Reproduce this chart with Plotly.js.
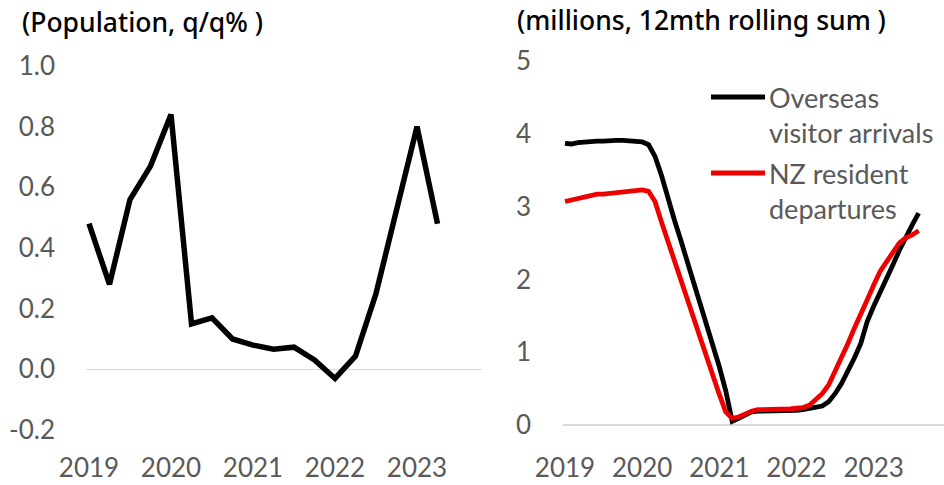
<!DOCTYPE html>
<html>
<head>
<meta charset="utf-8">
<script src="https://cdn.plot.ly/plotly-3.0.1.min.js"></script>
<style>
html,body{margin:0;padding:0;background:#fff;}
#chart{width:944px;height:485px;}
</style>
</head>
<body>
<div id="chart"></div>
<script>
// ---- Left panel: population growth, quarterly ----
const quarters = ["2019Q1","2019Q2","2019Q3","2019Q4","2020Q1","2020Q2","2020Q3","2020Q4",
  "2021Q1","2021Q2","2021Q3","2021Q4","2022Q1","2022Q2","2022Q3","2022Q4","2023Q1","2023Q2"];
const popGrowth = [0.48,0.28,0.56,0.67,0.84,0.15,0.17,0.10,0.08,0.066,0.073,0.031,-0.03,0.044,0.25,0.52,0.80,0.48];
const leftTickVals = ["2019Q1","2020Q1","2021Q1","2022Q1","2023Q1"];
const yearLabels = ["2019","2020","2021","2022","2023"];
const leftTitle = "(Population, q/q% )";

// ---- Right panel: arrivals / departures, monthly, 12mth rolling sum (millions) ----
const months = ["2019-01","2019-02","2019-03","2019-04","2019-05","2019-06","2019-07","2019-08","2019-09","2019-10","2019-11","2019-12",
  "2020-01","2020-02","2020-03","2020-04","2020-05","2020-06","2020-07","2020-08","2020-09","2020-10","2020-11","2020-12",
  "2021-01","2021-02","2021-03","2021-04","2021-05","2021-06","2021-07","2021-08","2021-09","2021-10","2021-11","2021-12",
  "2022-01","2022-02","2022-03","2022-04","2022-05","2022-06","2022-07","2022-08","2022-09","2022-10","2022-11","2022-12",
  "2023-01","2023-02","2023-03","2023-04","2023-05","2023-06","2023-07","2023-08"];
const visitorArrivals = [3.87,3.86,3.88,3.89,3.89,3.90,3.90,3.91,3.91,3.91,3.90,3.90,
  3.89,3.85,3.69,3.43,3.10,2.82,2.54,2.25,1.97,1.69,1.40,1.11,
  0.80,0.47,0.05,0.09,0.14,0.18,0.19,0.19,0.19,0.19,0.19,0.19,
  0.20,0.21,0.23,0.24,0.26,0.32,0.43,0.57,0.73,0.92,1.12,1.42,
  1.63,1.81,1.99,2.20,2.40,2.59,2.75,2.91];
const residentDepartures = [3.07,3.09,3.11,3.13,3.16,3.17,3.17,3.18,3.19,3.20,3.21,3.22,
  3.23,3.21,3.07,2.79,2.52,2.26,2.00,1.73,1.47,1.20,0.94,0.68,
  0.42,0.18,0.09,0.11,0.15,0.19,0.21,0.21,0.21,0.21,0.22,0.22,
  0.23,0.24,0.27,0.34,0.43,0.55,0.73,0.92,1.12,1.33,1.51,1.72,
  1.92,2.11,2.24,2.38,2.50,2.57,2.61,2.67];
const rightTickVals = ["2019-01","2020-01","2021-01","2022-01","2023-01"];
const rightTitle = "(millions, 12mth rolling sum )";
const seriesNames = ["Overseas<br>visitor arrivals","NZ resident<br>departures"];
const seriesColors = ["#000000","#ee0000"];

const tickFont = {family:"Lato, 'Noto Sans', sans-serif", size:26, color:"#595959"};
const legendFont = {family:"Lato, 'Noto Sans', sans-serif", size:27, color:"#595959"};
const titleFont = {family:"'Noto Sans', sans-serif", size:26.5, color:"#000000", weight:500};

const traces = [
  {x:quarters, y:popGrowth, type:"scatter", mode:"lines", xaxis:"x", yaxis:"y",
   line:{color:"#000000", width:5.5}, showlegend:false, hoverinfo:"skip"},
  {x:months, y:visitorArrivals, type:"scatter", mode:"lines", xaxis:"x2", yaxis:"y2",
   line:{color:seriesColors[0], width:4.8}, name:seriesNames[0], showlegend:false, hoverinfo:"skip"},
  {x:months, y:residentDepartures, type:"scatter", mode:"lines", xaxis:"x2", yaxis:"y2",
   line:{color:seriesColors[1], width:4.8}, name:seriesNames[1], showlegend:false, hoverinfo:"skip"}
];

const W = 944, H = 485;
const layout = {
  width:W, height:H,
  margin:{l:0,r:0,t:0,b:0},
  paper_bgcolor:"#ffffff", plot_bgcolor:"#ffffff",
  showlegend:false,
  xaxis:{type:"category", domain:[86/W, 482/W], range:[-0.146, 19.17],
    tickmode:"array", tickvals:leftTickVals, ticktext:yearLabels,
    showgrid:false, zeroline:false, showline:false, ticks:"", tickfont:tickFont,
    ticklabelstandoff:20, anchor:"y"},
  yaxis:{domain:[(H-430)/H, (H-66)/H], range:[-0.2, 1.0],
    tickmode:"array", tickvals:[-0.2,0,0.2,0.4,0.6,0.8,1.0],
    ticktext:["-0.2","0.0","0.2","0.4","0.6","0.8","1.0"],
    showgrid:false, zeroline:true, zerolinecolor:"#d9d9d9", zerolinewidth:1.5,
    showline:false, ticks:"", tickfont:tickFont, ticklabelstandoff:30, anchor:"x"},
  xaxis2:{type:"category", domain:[563/W, 1], range:[-0.31, 58.94],
    tickmode:"array", tickvals:rightTickVals, ticktext:yearLabels,
    showgrid:false, zeroline:false, showline:false, ticks:"", tickfont:tickFont,
    ticklabelstandoff:25, anchor:"y2"},
  yaxis2:{domain:[(H-425)/H, (H-61)/H], range:[0, 5],
    tickmode:"array", tickvals:[0,1,2,3,4,5],
    showgrid:false, zeroline:true, zerolinecolor:"#d9d9d9", zerolinewidth:1.5,
    showline:false, ticks:"", tickfont:tickFont, ticklabelstandoff:31, anchor:"x2"},
  annotations:[
    {text:leftTitle, xref:"paper", yref:"paper", x:20/W, y:1-22/H, xanchor:"left", yanchor:"middle",
     showarrow:false, font:titleFont},
    {text:rightTitle, xref:"paper", yref:"paper", x:515/W, y:1-20/H, xanchor:"left", yanchor:"middle",
     showarrow:false, font:titleFont},
    {text:seriesNames[0], xref:"paper", yref:"paper", x:767/W, y:1-97/H, xanchor:"left", yanchor:"top",
     yshift:18, align:"left", showarrow:false, font:legendFont},
    {text:seriesNames[1], xref:"paper", yref:"paper", x:767/W, y:1-173/H, xanchor:"left", yanchor:"top",
     yshift:18, align:"left", showarrow:false, font:legendFont}
  ],
  shapes:[
    {type:"line", xref:"paper", yref:"paper", x0:711/W, x1:765/W, y0:1-97/H, y1:1-97/H,
     line:{color:seriesColors[0], width:4.8}},
    {type:"line", xref:"paper", yref:"paper", x0:711/W, x1:765/W, y0:1-173/H, y1:1-173/H,
     line:{color:seriesColors[1], width:4.8}}
  ]
};

Plotly.newPlot("chart", traces, layout, {displayModeBar:false, staticPlot:true});
</script>
</body>
</html>
